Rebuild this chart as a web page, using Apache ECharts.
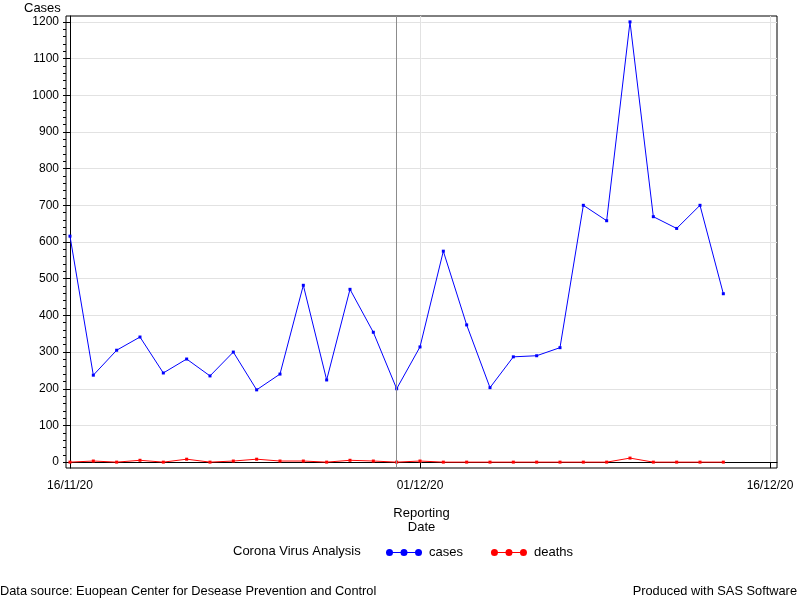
<!DOCTYPE html>
<html>
<head>
<meta charset="utf-8">
<script src="https://cdn.jsdelivr.net/npm/echarts@6/dist/echarts.min.js"></script>
<style>html,body{margin:0;padding:0;background:#fff}#c{width:800px;height:600px}</style>
</head>
<body>
<div id="c"></div>
<script>
var dates = ['2020-11-16','2020-11-17','2020-11-18','2020-11-19','2020-11-20','2020-11-21','2020-11-22',
  '2020-11-23','2020-11-24','2020-11-25','2020-11-26','2020-11-27','2020-11-28','2020-11-29','2020-11-30',
  '2020-12-01','2020-12-02','2020-12-03','2020-12-04','2020-12-05','2020-12-06','2020-12-07','2020-12-08',
  '2020-12-09','2020-12-10','2020-12-11','2020-12-12','2020-12-13','2020-12-14'];
var cases = [616,237,305,341,243,281,235,300,197,240,482,224,471,354,200,
  314,575,374,203,287,290,312,700,658,1200,669,637,700,459];
var deaths = [0,3,0,5,0,8,0,3,8,3,3,0,5,3,0,
  3,0,0,0,0,0,0,0,0,11,0,0,0,0];
var xTickDates = ['2020-11-16','2020-12-01','2020-12-16'];
var yTicks = [0,100,200,300,400,500,600,700,800,900,1000,1100,1200];
var yMinorTicks = [];
for (var v = 0; v <= 1200; v += 20) yMinorTicks.push(v);
var refDate = '2020-11-30';

var DAY = 86400000;
function ts(s){ var p = s.split('-'); return Date.UTC(+p[0], +p[1]-1, +p[2]); }
var base = ts(dates[0]);
function dayNum(s){ return Math.round((ts(s) - base) / DAY); }
function fmt(n){ var d = new Date(base + Math.round(n) * DAY); function z(k){return (k<10?'0':'')+k;}
  return z(d.getUTCDate())+'/'+z(d.getUTCMonth()+1)+'/'+z(d.getUTCFullYear()%100); }
var font = '"Liberation Sans", Arial, sans-serif';
var xMin = -4.1/24;
var xMax = dayNum('2020-12-16') + 7.2/24;
var yMin = -16, yMax = 1216;
var xTicks = xTickDates.map(dayNum);
var iconPath = 'path://M0,3L36,3L36,4L0,4Z M7,3.5A3.5,3.5,0,1,1,0,3.5A3.5,3.5,0,1,1,7,3.5Z M21.5,3.5A3.5,3.5,0,1,1,14.5,3.5A3.5,3.5,0,1,1,21.5,3.5Z M36,3.5A3.5,3.5,0,1,1,29,3.5A3.5,3.5,0,1,1,36,3.5Z';

var chart = echarts.init(document.getElementById('c'), null, {renderer:'canvas'});
chart.setOption({
  animation: false,
  textStyle: {fontFamily: font, color: '#000'},
  grid: {left: 66, right: 23, top: 16, bottom: 132, show: true, borderColor: '#000', borderWidth: 1, backgroundColor: 'transparent', containLabel: false},
  xAxis: {
    type: 'value', min: xMin, max: xMax,
    name: 'Reporting\nDate', nameLocation: 'middle', nameGap: 38,
    nameTextStyle: {fontSize: 13, color: '#000', lineHeight: 14, fontFamily: font},
    axisLine: {show: true, lineStyle: {color: '#000', width: 1}},
    axisTick: {show: true, length: 6, lineStyle: {color: '#000'}, customValues: xTicks},
    axisLabel: {customValues: xTicks, formatter: function(v){return fmt(v);}, fontSize: 12, color: '#000', margin: 12, fontFamily: font},
    splitLine: {show: true, lineStyle: {color: '#e2e2e2', width: 1}}
  },
  yAxis: [{
    type: 'value', min: yMin, max: yMax,
    axisLine: {show: true, lineStyle: {color: '#000', width: 1}},
    axisTick: {show: true, length: 5, lineStyle: {color: '#000'}, customValues: yTicks},
    axisLabel: {customValues: yTicks, formatter: function(v){return String(v);}, fontSize: 12, color: '#000', margin: 7, fontFamily: font},
    splitLine: {show: true, lineStyle: {color: '#e2e2e2', width: 1}}
  }, {
    type: 'value', min: yMin, max: yMax, position: 'left',
    axisLine: {show: false},
    axisTick: {show: true, length: 3, lineStyle: {color: '#000'}, customValues: yMinorTicks},
    axisLabel: {show: false},
    splitLine: {show: false}
  }],
  legend: {
    left: 386, top: 546, padding: 0, itemWidth: 36, itemHeight: 7, itemGap: 28,
    textStyle: {fontSize: 13, color: '#000', fontFamily: font, padding: [0,0,0,2]},
    data: [
      {name: 'cases', icon: iconPath, itemStyle: {color: '#0000ff'}},
      {name: 'deaths', icon: iconPath, itemStyle: {color: '#ff0000'}}
    ]
  },
  graphic: [
    {type: 'text', left: 24, top: 2, style: {text: 'Cases', font: '13px ' + font, fill: '#000'}},
    {type: 'text', left: 233, top: 545, style: {text: 'Corona Virus Analysis', font: '13px ' + font, fill: '#000'}},
    {type: 'text', left: 0, top: 585, style: {text: 'Data source: Euopean Center for Desease Prevention and Control', font: '12.8px ' + font, fill: '#000'}},
    {type: 'text', right: 3, top: 585, style: {text: 'Produced with SAS Software', font: '12.8px ' + font, fill: '#000'}}
  ],
  series: [{
    name: 'cases', type: 'line', yAxisIndex: 0,
    data: dates.map(function(d,i){return [dayNum(d), cases[i]];}),
    lineStyle: {color: '#0000ff', width: 1}, itemStyle: {color: '#0000ff'},
    symbol: 'rect', symbolSize: 3, showSymbol: true,
    markLine: {silent: true, symbol: ['none','none'], label: {show: false},
      lineStyle: {color: '#8c8c8c', width: 1, type: 'solid'},
      data: [{xAxis: dayNum(refDate)}]}
  }, {
    name: 'deaths', type: 'line', yAxisIndex: 0,
    data: dates.map(function(d,i){return [dayNum(d), deaths[i]];}),
    lineStyle: {color: '#ff0000', width: 1}, itemStyle: {color: '#ff0000'},
    symbol: 'rect', symbolSize: 3, showSymbol: true
  }]
});
</script>
</body>
</html>
